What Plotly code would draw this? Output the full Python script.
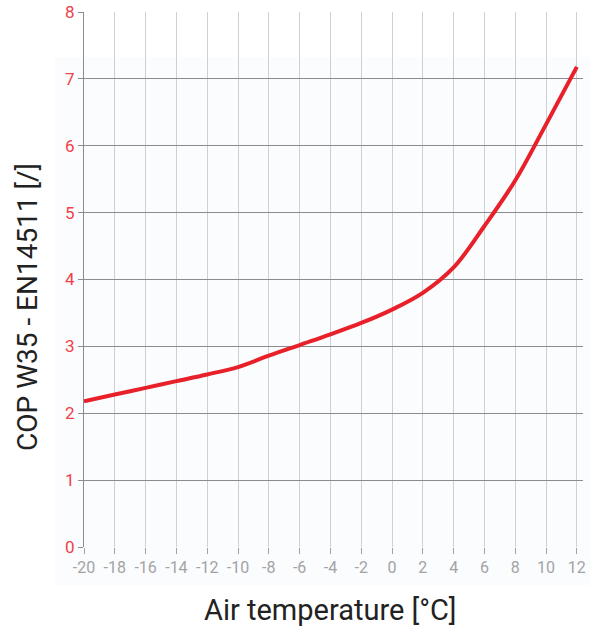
import plotly.graph_objects as go

temps = [-20, -18, -16, -14, -12, -10, -8, -6, -4, -2, 0, 2, 4, 6, 8, 10, 12]
cop = [2.18, 2.28, 2.38, 2.48, 2.58, 2.69, 2.86, 3.02, 3.18, 3.35, 3.55, 3.8, 4.18, 4.8, 5.48, 6.32, 7.18]
x_ticks = list(range(-20, 13, 2))
x_labels = ["-20", "-18", "-16", "-14", "-12", "-10", "-8", "-6", "-4", "-2", "0", "2", "4", "6", "8", "10", "12"]
y_ticks = list(range(0, 9))
x_title = "Air temperature [°C]"
y_title = "COP W35 - EN14511 [/]"

FONT = "Roboto, DejaVu Sans, sans-serif"

fig = go.Figure()
fig.add_trace(go.Scatter(
    x=temps, y=cop, mode="lines",
    line=dict(color="#e8202a", width=4, shape="spline", smoothing=1.0),
    hoverinfo="skip", showlegend=False,
))

fig.update_layout(
    width=598, height=630,
    margin=dict(l=84, r=15, t=12, b=83),
    paper_bgcolor="white",
    plot_bgcolor="rgba(0,0,0,0)",
    shapes=[dict(type="rect", xref="paper", yref="paper", x0=-0.058, x1=1.014, y0=-0.071, y1=0.916,
                 fillcolor="#fbfcfd", line=dict(width=0), layer="below")],
    xaxis=dict(
        range=[-20, 12.4], tickvals=x_ticks, ticktext=x_labels,
        showgrid=True, gridcolor="#d0d0d4", gridwidth=1,
        ticks="outside", ticklen=6, tickcolor="#a0a0a4", tickwidth=1,
        showline=False, zeroline=False, automargin=False,
        tickfont=dict(family=FONT, size=16, color="#a3a3a6"),
    ),
    yaxis=dict(
        range=[0, 8], tickvals=y_ticks,
        showgrid=True, gridcolor="#8c8c90", gridwidth=1,
        ticks="outside", ticklen=5, tickcolor="#8c8c90", tickwidth=1,
        showline=True, linecolor="#8c8c90", linewidth=1,
        zeroline=False, automargin=False,
        tickfont=dict(family=FONT, size=17, color="#f0404a"),
    ),
    annotations=[
        dict(text=x_title, xref="paper", yref="paper", x=0.493, y=-0.118,
             xanchor="center", yanchor="middle", showarrow=False,
             font=dict(family=FONT, size=29, color="#222222")),
        dict(text=y_title, xref="paper", yref="paper", x=-0.113, y=0.448,
             xanchor="center", yanchor="middle", showarrow=False, textangle=-90,
             font=dict(family=FONT, size=28, color="#222222")),
    ],
)

fig.write_html("out.html", config={"displayModeBar": False},
               post_script="document.body.style.margin='0';document.body.style.overflow='hidden';")
